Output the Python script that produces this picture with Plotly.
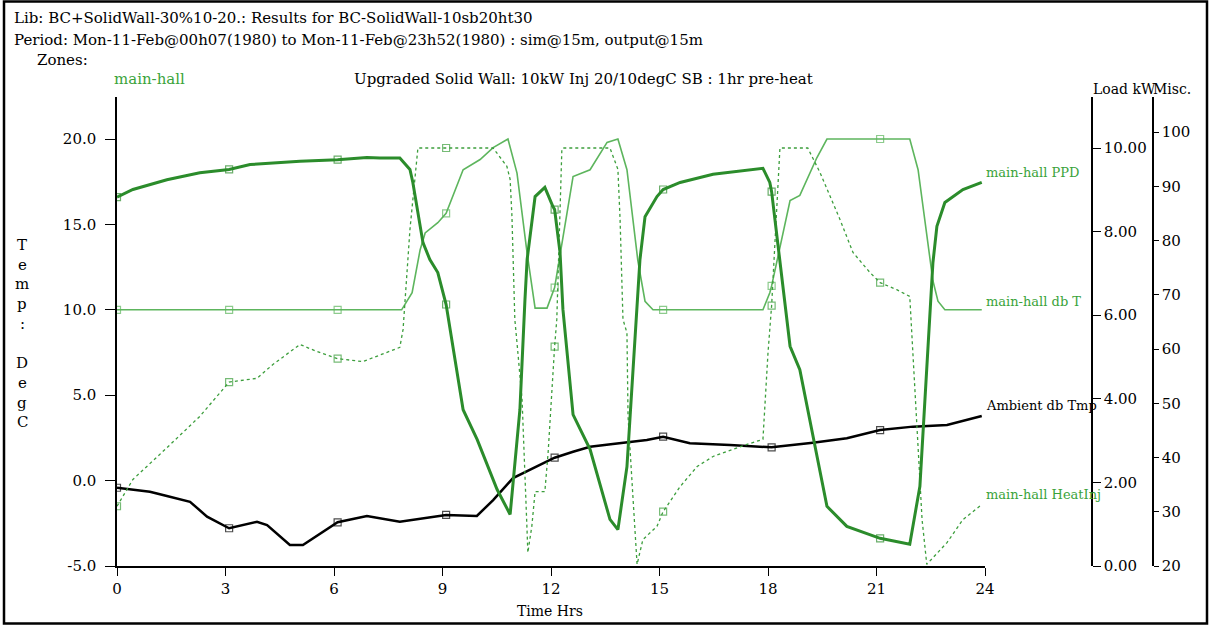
import plotly.graph_objects as go

# ---------------- data ----------------
MARK_HRS = [0.0, 3.1, 6.1, 9.1, 12.1, 15.1, 18.1, 21.1]

ppd_hrs = [0.0, 0.44, 1.38, 2.29, 3.1, 3.68, 5.06, 6.1, 6.91, 7.27, 7.82, 8.10, 8.18, 8.46, 8.65,
           8.87, 9.1, 9.57, 9.96, 10.51, 10.87, 11.14, 11.28, 11.34, 11.56, 11.83, 12.05, 12.1,
           12.25, 12.33, 12.61, 13.08, 13.63, 13.85, 14.10, 14.40, 14.46, 14.60, 14.93, 15.1,
           15.57, 16.48, 17.86, 18.05, 18.1, 18.61, 18.88, 19.63, 20.18, 21.1, 21.92, 22.20,
           22.56, 22.67, 22.89, 23.39, 23.91]
ppd_val = [88.0, 89.4, 91.2, 92.5, 93.1, 94.0, 94.6, 94.9, 95.3, 95.2, 95.2, 93.1, 90.7, 79.6, 76.5,
           74.1, 68.2, 48.8, 43.3, 34.1, 29.5, 48.8, 69.1, 76.5, 88.1, 89.8, 86.3, 85.7,
           77.8, 67.3, 47.9, 41.5, 28.6, 26.7, 38.3, 69.1, 76.5, 84.4, 88.1, 89.4,
           90.7, 92.2, 93.3, 90.7, 89.0, 60.5, 56.2, 31.0, 27.3, 25.1, 24.0, 34.7,
           75.9, 82.6, 87.0, 89.4, 90.7]

dbt_hrs = [0.0, 3.1, 6.1, 7.87, 8.16, 8.38, 8.52, 8.87, 9.1, 9.57, 10.04, 10.40, 10.81, 11.06,
           11.34, 11.56, 11.89, 12.05, 12.1, 12.61, 13.08, 13.55, 13.85, 14.10, 14.40, 14.60,
           14.82, 15.1, 17.86, 18.05, 18.1, 18.61, 18.88, 19.35, 19.63, 21.1, 21.92, 22.15,
           22.56, 22.70, 22.89, 23.91]
dbt_val = [10.0, 10.0, 10.0, 10.0, 11.0, 13.5, 14.5, 15.1, 15.65, 18.2, 18.8, 19.5, 20.0, 18.0,
           13.3, 10.1, 10.1, 11.0, 11.3, 17.8, 18.2, 19.8, 20.0, 18.2, 12.9, 10.5,
           10.0, 10.0, 10.0, 11.0, 11.4, 16.4, 16.7, 18.9, 20.0, 20.0, 20.0, 18.2,
           11.7, 10.5, 10.0, 10.0]

amb_hrs = [0.0, 0.91, 1.38, 2.02, 2.49, 3.1, 3.87, 4.15, 4.78, 5.14, 6.1, 6.91, 7.82, 8.18, 9.1,
           9.95, 10.40, 10.95, 11.42, 12.1, 12.61, 13.08, 13.71, 14.65, 15.1, 15.57, 15.84,
           16.95, 18.1, 19.24, 20.18, 21.1, 22.01, 22.95, 23.91]
amb_val = [-0.42, -0.65, -0.90, -1.24, -2.11, -2.79, -2.41, -2.60, -3.77, -3.77, -2.44, -2.07,
           -2.41, -2.31, -2.01, -2.07, -1.14, 0.15, 0.62, 1.34, 1.69, 1.98, 2.14, 2.38, 2.57,
           2.34, 2.19, 2.08, 1.95, 2.22, 2.48, 2.96, 3.16, 3.26, 3.78]

inj_hrs = [0.0, 0.44, 1.38, 2.29, 3.1, 3.87, 4.31, 5.06, 5.53, 6.1, 6.80, 7.82, 7.91, 8.10, 8.32,
           9.1, 10.40, 10.78, 10.87, 10.92, 11.00, 11.06, 11.20, 11.34, 11.36, 11.47, 11.56,
           11.83, 11.92, 12.1, 12.16, 12.30, 12.33, 13.63, 13.85, 13.91, 13.99, 14.10, 14.13,
           14.27, 14.38, 14.54, 14.93, 15.1, 15.57, 16.04, 16.48, 17.42, 17.86, 18.00, 18.1,
           18.33, 19.10, 19.44, 19.99, 20.35, 20.82, 21.1, 21.56, 21.92, 22.01, 22.15, 22.26,
           22.39, 22.95, 23.39, 23.91]
inj_val = [1.43, 2.07, 2.83, 3.58, 4.40, 4.49, 4.82, 5.30, 5.13, 4.96, 4.89, 5.23, 5.66, 8.05, 10.0,
           10.0, 10.0, 9.56, 9.25, 8.37, 5.9, 5.34, 3.98, 0.8, 0.32, 0.95, 1.78,
           1.78, 2.71, 5.25, 5.9, 9.96, 10.0, 10.0, 9.49, 8.29, 5.9, 5.58, 3.58,
           1.59, 0.04, 0.63, 0.95, 1.30, 1.90, 2.38, 2.62, 2.91, 3.03, 5.1, 6.23,
           10.0, 10.0, 9.41, 8.29, 7.50, 7.02, 6.78, 6.61, 6.45, 5.1, 2.71, 1.11,
           0.04, 0.56, 1.11, 1.47]

x_ticks = [0, 3, 6, 9, 12, 15, 18, 21, 24]
temp_ticks = [-5, 0, 5, 10, 15, 20]
temp_ticktext = ["-5.0", "0.0", "5.0", "10.0", "15.0", "20.0"]
load_ticks = [0, 2, 4, 6, 8, 10]
load_ticktext = ["0.00", "2.00", "4.00", "6.00", "8.00", "10.00"]
misc_ticks = [20, 30, 40, 50, 60, 70, 80, 90, 100]
y_title_letters = ["T", "e", "m", "p", ":", "", "D", "e", "g", "C"]

# ---------------- styling ----------------
W, H = 1210, 625
ML, MR, MT, MB = 117, 40, 97, 59
PW, PH = W - ML - MR, H - MT - MB
FONT = "DejaVu Serif"
C_PPD = "#2b8c2b"
C_DBT = "#5db55d"
C_INJ = "#3c9e3c"
C_TXT = "#3aa33a"


def px(x):
    return (x - ML) / PW


def py(y):
    return (H - MB - y) / PH


def msizes(hrs):
    return [7 if any(abs(h - m) < 1e-6 for m in MARK_HRS) else 0 for h in hrs]


fig = go.Figure()
fig.add_trace(go.Scatter(x=inj_hrs, y=inj_val, yaxis="y2", mode="lines+markers",
                         line=dict(color=C_INJ, width=1.3, dash="3px,3px"),
                         marker=dict(symbol="square-open", size=msizes(inj_hrs), color=C_INJ,
                                     line=dict(width=1.2, color=C_INJ)),
                         name="main-hall HeatInj", showlegend=False))
fig.add_trace(go.Scatter(x=dbt_hrs, y=dbt_val, yaxis="y", mode="lines+markers",
                         line=dict(color=C_DBT, width=1.6),
                         marker=dict(symbol="square-open", size=msizes(dbt_hrs), color=C_DBT,
                                     line=dict(width=1.2, color=C_DBT)),
                         name="main-hall db T", showlegend=False))
fig.add_trace(go.Scatter(x=ppd_hrs, y=ppd_val, yaxis="y3", mode="lines+markers",
                         line=dict(color=C_PPD, width=3),
                         marker=dict(symbol="square-open", size=msizes(ppd_hrs), color=C_PPD,
                                     line=dict(width=1.2, color=C_PPD)),
                         name="main-hall PPD", showlegend=False))
fig.add_trace(go.Scatter(x=amb_hrs, y=amb_val, yaxis="y", mode="lines+markers",
                         line=dict(color="black", width=2.5),
                         marker=dict(symbol="square-open", size=msizes(amb_hrs), color="black",
                                     line=dict(width=1.2, color="black")),
                         name="Ambient db Tmp", showlegend=False))

tickfont = dict(family=FONT, size=15, color="black")
fig.update_layout(
    width=W, height=H,
    margin=dict(l=ML, r=MR, t=MT, b=MB, pad=0, autoexpand=False),
    paper_bgcolor="white", plot_bgcolor="white",
    font=dict(family=FONT, size=14, color="black"),
    xaxis=dict(domain=[0, 868 / PW], range=[0, 24], tickvals=x_ticks, ticks="outside",
               ticklen=8, tickwidth=1, tickcolor="black", showline=True, linecolor="black",
               linewidth=1.5, showgrid=False, zeroline=False, tickfont=tickfont, anchor="y"),
    yaxis=dict(range=[-5, -5 + PH / 17.08], tickvals=temp_ticks, ticktext=temp_ticktext,
               ticks="outside", ticklen=10, tickcolor="black", showline=True, linecolor="black",
               linewidth=1.5, showgrid=False, zeroline=False, tickfont=tickfont, ticklabelstandoff=6),
    yaxis2=dict(overlaying="y", side="right", anchor="free", position=px(1092),
                range=[0, PH / 41.8], tickvals=load_ticks, ticktext=load_ticktext,
                ticks="outside", ticklen=8, tickcolor="black", showline=True, linecolor="black",
                linewidth=1.5, showgrid=False, zeroline=False, tickfont=tickfont),
    yaxis3=dict(overlaying="y", side="right", anchor="free", position=px(1153),
                range=[20, 20 + PH / 5.425], tickvals=misc_ticks,
                ticks="outside", ticklen=5, tickcolor="black", showline=True, linecolor="black",
                linewidth=1.5, showgrid=False, zeroline=False, tickfont=tickfont),
)

ann = []


def add_text(text, x, y, xanchor="left", color="black", size=15):
    ann.append(dict(text=text, x=px(x), y=py(y), xref="paper", yref="paper", showarrow=False,
                    xanchor=xanchor, yanchor="middle", font=dict(family=FONT, size=size, color=color)))


add_text("Lib: BC+SolidWall-30%10-20.: Results for BC-SolidWall-10sb20ht30", 12, 18)
add_text("Period: Mon-11-Feb@00h07(1980) to Mon-11-Feb@23h52(1980) : sim@15m, output@15m", 12, 40)
add_text("Zones:", 35, 60)
add_text("main-hall", 112, 79, color=C_TXT)
add_text("Upgraded Solid Wall: 10kW Inj 20/10degC SB : 1hr pre-heat", 352, 79)
add_text("Load kW", 1091, 89, size=14)
add_text("Misc.", 1193, 89, xanchor="right", size=14)
add_text("Time Hrs", 550, 611, xanchor="center", size=14)
add_text("main-hall PPD", 984, 172, color=C_TXT, size=13)
add_text("main-hall db T", 984, 301, color=C_TXT, size=13)
add_text("Ambient db Tmp", 984, 405, size=13)
add_text("main-hall HeatInj", 984, 494, color=C_TXT, size=13)
for i, ch in enumerate(y_title_letters):
    if ch:
        add_text(ch, 22, 245 + i * 19.7, xanchor="center", size=15)
fig.update_layout(annotations=ann)

fig.add_shape(type="rect", xref="paper", yref="paper", x0=px(4), x1=px(1207), y0=py(1.5), y1=py(623.5),
              line=dict(color="black", width=2.5), fillcolor="rgba(0,0,0,0)", layer="above")

fig.write_html("out.html", config={"displayModeBar": False},
               post_script="document.body.style.margin='0px';document.body.style.overflow='hidden';")
